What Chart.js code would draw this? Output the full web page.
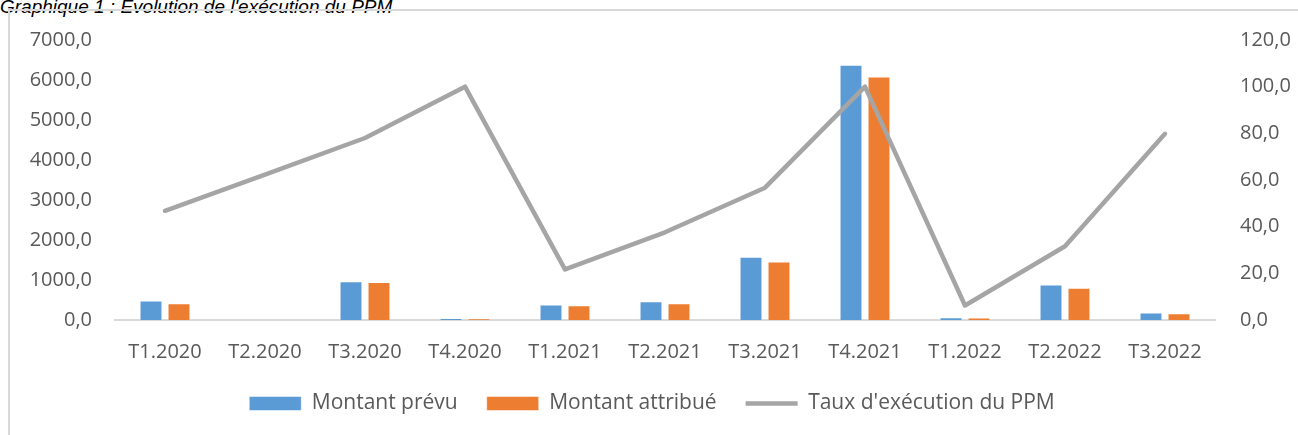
<!DOCTYPE html>
<html lang="fr">
<head>
<meta charset="utf-8">
<title>Evolution de l'exécution du PPM</title>
<script src="https://cdn.jsdelivr.net/npm/chart.js@4.4.1/dist/chart.umd.min.js"></script>
<style>
  html, body { margin: 0; padding: 0; background: #fff; overflow: hidden; }
  body { width: 1298px; height: 435px; position: relative; }
  #titre {
    position: absolute; left: 0; top: -4px;
    font: italic 19px "Liberation Sans", Arial, sans-serif; color: #000;
    white-space: nowrap;
  }
  #cadre {
    position: absolute; left: 8px; top: 9px; width: 1400px; height: 500px;
    border: 2px solid #d9d9d9;
  }
  #zone { position: absolute; left: 0; top: 0; width: 1298px; height: 435px; }
</style>
</head>
<body>
<div id="titre">Graphique 1 : Evolution de l'exécution du PPM</div>
<div id="cadre"></div>
<div id="zone"><canvas id="myChart"></canvas></div>
<script>
'use strict';

// DATA
let trimestres = ['T1.2020', 'T2.2020', 'T3.2020', 'T4.2020', 'T1.2021', 'T2.2021',
  'T3.2021', 'T4.2021', 'T1.2022', 'T2.2022', 'T3.2022'];
let montantPrevu = [485, 0, 970, 50, 385, 470, 1580, 6380, 70, 890, 185];
let montantAttribue = [420, 0, 950, 35, 370, 420, 1465, 6085, 65, 805, 170];
let tauxExecution = [46.8, 62.3, 78.0, 100.0, 21.7, 37.6, 56.7, 100.0, 6.2, 31.6, 79.8];

let ticksGauche = [0, 1000, 2000, 3000, 4000, 5000, 6000, 7000];
let ticksDroite = [0, 20, 40, 60, 80, 100, 120];

// FUNCTIONS
function formatVirgule(value) {
  return value.toFixed(1).replace('.', ',');
}

function renderChart() {
  Chart.defaults.font.family = '"Open Sans", "Liberation Sans", sans-serif';
  Chart.defaults.font.size = 20;
  Chart.defaults.color = '#595959';

  const data = {
    labels: trimestres,
    datasets: [
      {
        type: 'bar',
        label: 'Montant prévu',
        data: montantPrevu,
        backgroundColor: '#5B9BD5',
        borderColor: 'rgba(255, 255, 255, 0.5)',
        borderWidth: 1,
        pointStyle: 'rect',
        yAxisID: 'y',
        order: 1,
        categoryPercentage: 0.56,
        barPercentage: 0.82
      },
      {
        type: 'bar',
        label: 'Montant attribué',
        data: montantAttribue,
        backgroundColor: '#ED7D31',
        borderColor: 'rgba(255, 255, 255, 0.5)',
        borderWidth: 1,
        pointStyle: 'rect',
        yAxisID: 'y',
        order: 1,
        categoryPercentage: 0.56,
        barPercentage: 0.82
      },
      {
        type: 'line',
        label: "Taux d'exécution du PPM",
        data: tauxExecution,
        borderColor: '#A5A5A5',
        backgroundColor: '#A5A5A5',
        borderWidth: 4.5,
        borderCapStyle: 'round',
        borderJoinStyle: 'round',
        pointRadius: 0,
        pointStyle: 'line',
        tension: 0,
        yAxisID: 'y1',
        order: 0
      }
    ]
  };

  const config = {
    type: 'bar',
    data: data,
    options: {
      responsive: true,
      maintainAspectRatio: false,
      animation: false,
      // padding gauche un peu plus grand pour centrer la legende sous la zone du graphique
      layout: { padding: { top: 40, left: 6, right: 0, bottom: 11 } },
      plugins: {
        tooltip: { enabled: false },
        legend: {
          position: 'bottom',
          labels: {
            usePointStyle: true,
            pointStyleWidth: 52,
            boxHeight: 14,
            padding: 29,
            font: { size: 21, lineHeight: 1 },
            sort: (a, b) => a.datasetIndex - b.datasetIndex
          }
        }
      },
      scales: {
        x: {
          grid: { display: false, drawTicks: false },
          border: { display: true, color: '#D9D9D9', width: 2 },
          ticks: { padding: 20, maxRotation: 0, autoSkip: false },
          afterFit: (scale) => { scale.height = 44; }
        },
        y: {
          position: 'left',
          min: 0,
          max: 7000,
          grid: { display: false, drawTicks: false },
          border: { display: false },
          ticks: { padding: 23, callback: formatVirgule },
          afterBuildTicks: (scale) => { scale.ticks = ticksGauche.map(v => ({ value: v })); },
          afterFit: (scale) => { scale.width = 109; }
        },
        y1: {
          position: 'right',
          min: 0,
          max: 120,
          grid: { display: false, drawTicks: false },
          border: { display: false },
          ticks: { padding: 25, callback: formatVirgule },
          afterBuildTicks: (scale) => { scale.ticks = ticksDroite.map(v => ({ value: v })); },
          afterFit: (scale) => { scale.width = 83; }
        }
      }
    }
  };

  const myChart = new Chart(document.getElementById('myChart'), config);
}

// EXECUTABLE CODE
renderChart();
</script>
</body>
</html>
